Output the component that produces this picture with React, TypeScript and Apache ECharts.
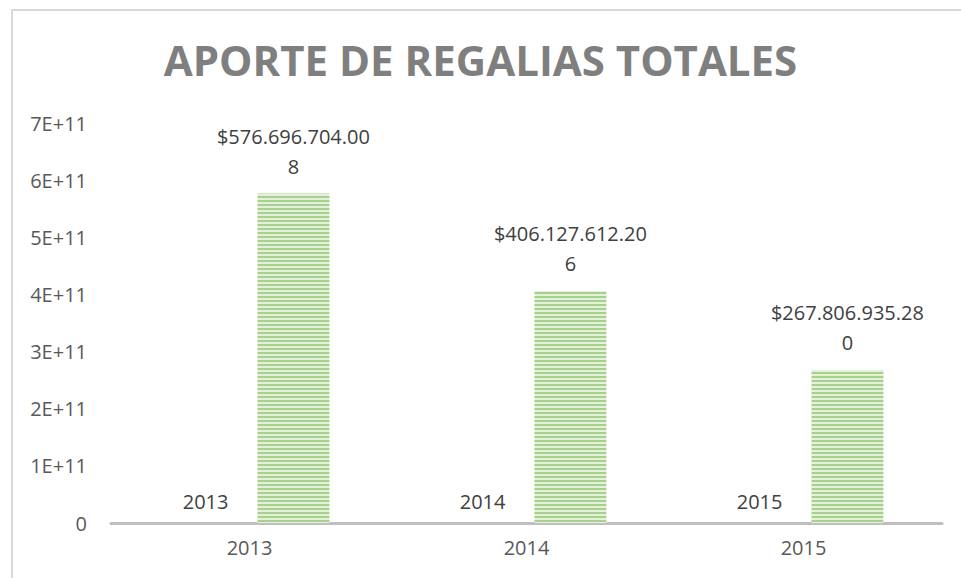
import React, { useEffect, useRef } from "react";
import * as echarts from "echarts";

const categories = ["2013", "2014", "2015"];
const yearValues = [2013, 2014, 2015];
const totalValues = [576696704008, 406127612206, 267806935280];
const titleText = "APORTE DE REGALIAS TOTALES";

function fmtMoney(v: number): string {
  const s = Math.round(v).toString();
  const parts: string[] = [];
  for (let i = s.length; i > 0; i -= 3) parts.unshift(s.slice(Math.max(0, i - 3), i));
  const full = "$" + parts.join(".");
  if (full.length > 15) return full.slice(0, 15) + "\n" + full.slice(15);
  return full;
}

export default function App() {
  const ref = useRef<HTMLDivElement>(null);
  useEffect(() => {
    if (!ref.current) return;
    const chart = echarts.init(ref.current, null, { renderer: "svg" });
    const cv = document.createElement("canvas");
    cv.width = 4;
    cv.height = 4;
    const ctx = cv.getContext("2d")!;
    ctx.fillStyle = "#e3f0da";
    ctx.fillRect(0, 0, 4, 4);
    ctx.fillStyle = "#a9d18e";
    ctx.fillRect(0, 0, 4, 2);
    const font = "'Open Sans', 'Liberation Sans', sans-serif";
    chart.setOption({
      animation: false,
      backgroundColor: "#ffffff",
      title: {
        text: titleText,
        left: "center",
        top: 33,
        textStyle: { fontFamily: font, fontSize: 42, fontWeight: "bold", color: "#7f7f7f" },
      },
      graphic: [
        {
          type: "rect",
          shape: { x: 12, y: 10, width: 980, height: 600 },
          style: { fill: "none", stroke: "#d9d9d9", lineWidth: 2 },
          z: -1,
          silent: true,
        },
      ],
      grid: { left: 111, right: 19, top: 123, bottom: 55 },
      xAxis: {
        type: "category",
        data: categories,
        axisLine: { lineStyle: { color: "#bfbfbf", width: 3 } },
        axisTick: { show: false },
        axisLabel: { fontFamily: font, fontSize: 20, color: "#595959", margin: 14 },
      },
      yAxis: {
        type: "value",
        min: 0,
        max: 7e11,
        interval: 1e11,
        splitLine: { show: false },
        axisLine: { show: false },
        axisTick: { show: false },
        axisLabel: {
          fontFamily: font,
          fontSize: 20,
          color: "#595959",
          margin: 24,
          formatter: (v: number) => (v === 0 ? "0" : `${Math.round(v / 1e11)}E+11`),
        },
      },
      series: [
        {
          type: "bar",
          name: "Año",
          data: yearValues,
          barWidth: 72,
          barGap: "22%",
          itemStyle: { color: "#a9d18e" },
          label: {
            show: true,
            position: "top",
            distance: 12,
            fontFamily: font,
            fontSize: 20,
            color: "#404040",
          },
        },
        {
          type: "bar",
          name: "Aporte",
          data: totalValues,
          barWidth: 72,
          itemStyle: { color: { image: cv, repeat: "repeat" } as any },
          label: {
            show: true,
            position: "top",
            distance: 12,
            fontFamily: font,
            fontSize: 20,
            lineHeight: 30,
            align: "center",
            color: "#404040",
            formatter: (p: any) => fmtMoney(p.value),
          },
        },
      ],
    });
    return () => chart.dispose();
  }, []);
  return (
    <div
      ref={ref}
      style={{ position: "fixed", left: 0, top: 0, width: 961, height: 578 }}
    />
  );
}
